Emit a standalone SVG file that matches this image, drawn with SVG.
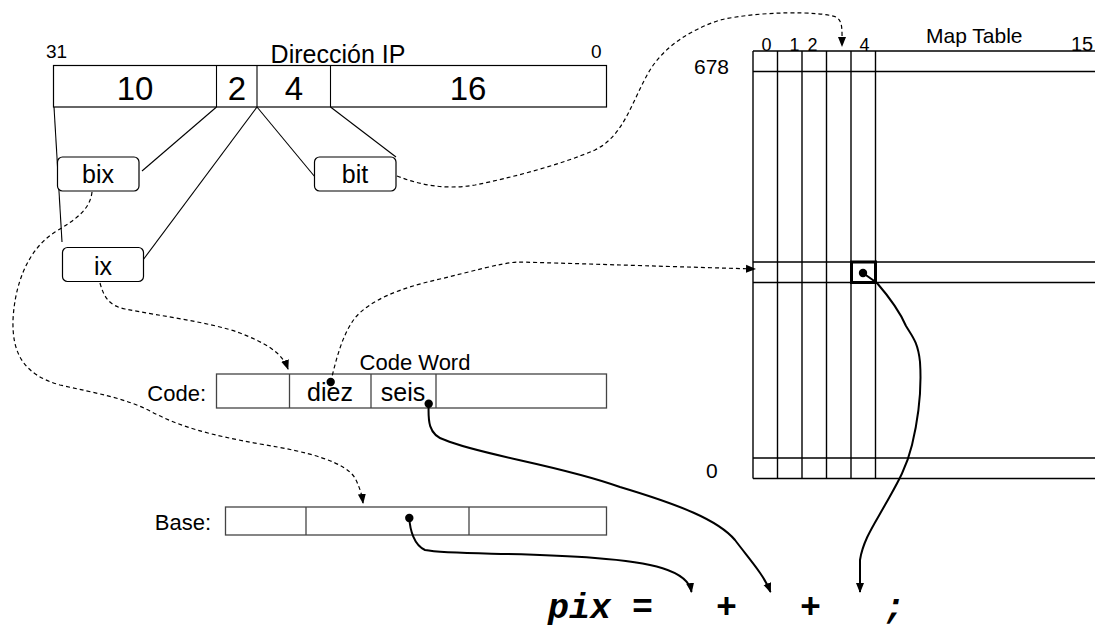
<svg xmlns="http://www.w3.org/2000/svg" width="1095" height="630" viewBox="0 0 1095 630">
<style>
text{font-family:"Liberation Sans",Arial,sans-serif;fill:#000}
.box{fill:#fff;stroke:#000;stroke-width:1.2}
.gbox{fill:#fff;stroke:#444;stroke-width:1.3}
.ln{stroke:#000;stroke-width:1.1;fill:none}
.grid{stroke:#000;stroke-width:1.4;fill:none}
.dash{stroke:#000;stroke-width:1.2;fill:none;stroke-dasharray:4 3}
.solid{stroke:#000;stroke-width:2;fill:none}
.mid{text-anchor:middle}
.f{font-family:"Liberation Mono","Courier New",monospace;font-weight:bold;font-style:italic;font-size:35px;white-space:pre}
</style>
<defs>
<marker id="ah" markerUnits="userSpaceOnUse" markerWidth="10" markerHeight="10" viewBox="0 0 10 10" refX="9" refY="5" orient="auto">
<path d="M0,1 L10,5 L0,9 Z" fill="#000"/>
</marker>
</defs>

<g id="ip-address">
<rect class="box" x="53.5" y="65.5" width="553" height="41.5"/>
<line class="ln" x1="216.5" y1="65.5" x2="216.5" y2="107"/>
<line class="ln" x1="257" y1="65.5" x2="257" y2="107"/>
<line class="ln" x1="330.5" y1="65.5" x2="330.5" y2="107"/>
<text x="46" y="58" font-size="19">31</text>
<text x="338" y="63" font-size="25" class="mid">Dirección IP</text>
<text x="591" y="58" font-size="19">0</text>
<text x="135" y="100" font-size="33" class="mid">10</text>
<text x="237" y="100" font-size="33" class="mid">2</text>
<text x="294" y="100" font-size="33" class="mid">4</text>
<text x="468" y="100" font-size="33" class="mid">16</text>
</g>

<g id="split-lines">
<line class="ln" x1="54" y1="107" x2="62" y2="242"/>
<line class="ln" x1="216.5" y1="107" x2="142" y2="171"/>
<line class="ln" x1="257" y1="107" x2="143" y2="260"/>
<line class="ln" x1="257" y1="107" x2="315" y2="177"/>
<line class="ln" x1="330.5" y1="107" x2="396" y2="157"/>
</g>

<g id="bix">
<rect class="box" x="57.5" y="157" width="81.5" height="34" rx="5"/>
<text x="98" y="183" font-size="25" class="mid">bix</text>
</g>
<g id="bit">
<rect class="box" x="314.5" y="157" width="81.5" height="34" rx="5"/>
<text x="355" y="183" font-size="25" class="mid">bit</text>
</g>
<g id="ix">
<rect class="box" x="62.5" y="247.5" width="81" height="34" rx="5"/>
<text x="103" y="275" font-size="25" class="mid">ix</text>
</g>

<g id="code-word">
<rect class="gbox" x="216.5" y="374" width="390" height="34"/>
<line class="gbox" x1="289.5" y1="374" x2="289.5" y2="408"/>
<line class="gbox" x1="371" y1="374" x2="371" y2="408"/>
<line class="gbox" x1="436" y1="374" x2="436" y2="408"/>
<text x="206" y="401" font-size="22" text-anchor="end">Code:</text>
<text x="415" y="370" font-size="22" class="mid">Code Word</text>
<text x="330" y="401" font-size="25" class="mid">diez</text>
<text x="403" y="401" font-size="25" class="mid">seis</text>
</g>

<g id="base">
<rect class="gbox" x="225.5" y="507" width="381" height="28"/>
<line class="gbox" x1="306" y1="507" x2="306" y2="535"/>
<line class="gbox" x1="469" y1="507" x2="469" y2="535"/>
<text x="211" y="530" font-size="22" text-anchor="end">Base:</text>
</g>

<g id="map-table">
<line class="grid" x1="753" y1="51" x2="1095" y2="51"/>
<line class="grid" x1="753" y1="71.5" x2="1095" y2="71.5"/>
<line class="grid" x1="753" y1="262" x2="1095" y2="262"/>
<line class="grid" x1="753" y1="282.5" x2="1095" y2="282.5"/>
<line class="grid" x1="753" y1="458" x2="1095" y2="458"/>
<line class="grid" x1="753" y1="478.5" x2="1095" y2="478.5"/>
<line class="grid" x1="753" y1="51" x2="753" y2="478.5"/>
<line class="grid" x1="777.5" y1="51" x2="777.5" y2="478.5"/>
<line class="grid" x1="802" y1="51" x2="802" y2="478.5"/>
<line class="grid" x1="826.5" y1="51" x2="826.5" y2="478.5"/>
<line class="grid" x1="851" y1="51" x2="851" y2="478.5"/>
<line class="grid" x1="875.5" y1="51" x2="875.5" y2="478.5"/>
<rect x="851.5" y="262" width="24" height="20.5" fill="none" stroke="#000" stroke-width="3"/>
<text x="766.5" y="51" font-size="18" class="mid">0</text>
<text x="794.5" y="51" font-size="18" class="mid">1</text>
<text x="812.5" y="51" font-size="18" class="mid">2</text>
<text x="864.5" y="51" font-size="18" class="mid">4</text>
<text x="926" y="43" font-size="21">Map Table</text>
<text x="1071" y="51" font-size="20">15</text>
<text x="694" y="74" font-size="21">678</text>
<text x="706" y="478" font-size="21">0</text>
</g>

<g id="formula">
<text class="f" x="548" y="618">pix =   +   +   ;</text>
</g>

<g id="connectors">
<path class="dash" marker-end="url(#ah)" d="M397,176 C420,185 445,190 475,185 C510,178 560,165 595,150 C625,135 632,100 650,70 C665,46 690,30 720,20 C760,11 820,11 836,17 C843,21 842,30 842,46"/>
<path class="dash" marker-end="url(#ah)" d="M330.7,382 C336,360 342,335 355,318 C370,300 400,288 440,279 C470,272 500,263 518,262 C560,263 650,266 755,269"/>
<path class="dash" marker-end="url(#ah)" d="M100,283 C104,298 110,306 125,309 C160,316 210,322 240,333 C265,343 282,352 288,369"/>
<path class="dash" marker-end="url(#ah)" d="M92,192 C90,210 75,220 55,232 C30,248 15,280 13,320 C12,355 25,375 60,385 C95,393 125,398 150,411 C180,427 210,435 260,444 C310,452 345,462 355,478 C360,488 362,495 363,503"/>
<path class="solid" marker-end="url(#ah)" d="M409.3,518 C410,530 414,545 425,550 C450,555 520,552 595,558 C650,562 688,570 691.5,592"/>
<path class="solid" marker-end="url(#ah)" d="M428.7,403.7 C428,420 428,435 445,440 C480,455 560,465 620,487 C680,505 718,520 735,540 C750,560 764,575 770.5,592"/>
<path class="solid" marker-end="url(#ah)" d="M863,273 L877,283 C890,298 900,312 906,326 C912,336 918,342 920,362 C922,392 918,420 912,445 C906,470 895,487 885,505 C875,523 863,540 860,560 L860,592"/>
<circle cx="409.3" cy="518" r="4.2"/>
<circle cx="428.7" cy="403.7" r="4.2"/>
<circle cx="330.7" cy="382" r="4.2"/>
<circle cx="863" cy="273" r="4.2"/>
</g>
</svg>
